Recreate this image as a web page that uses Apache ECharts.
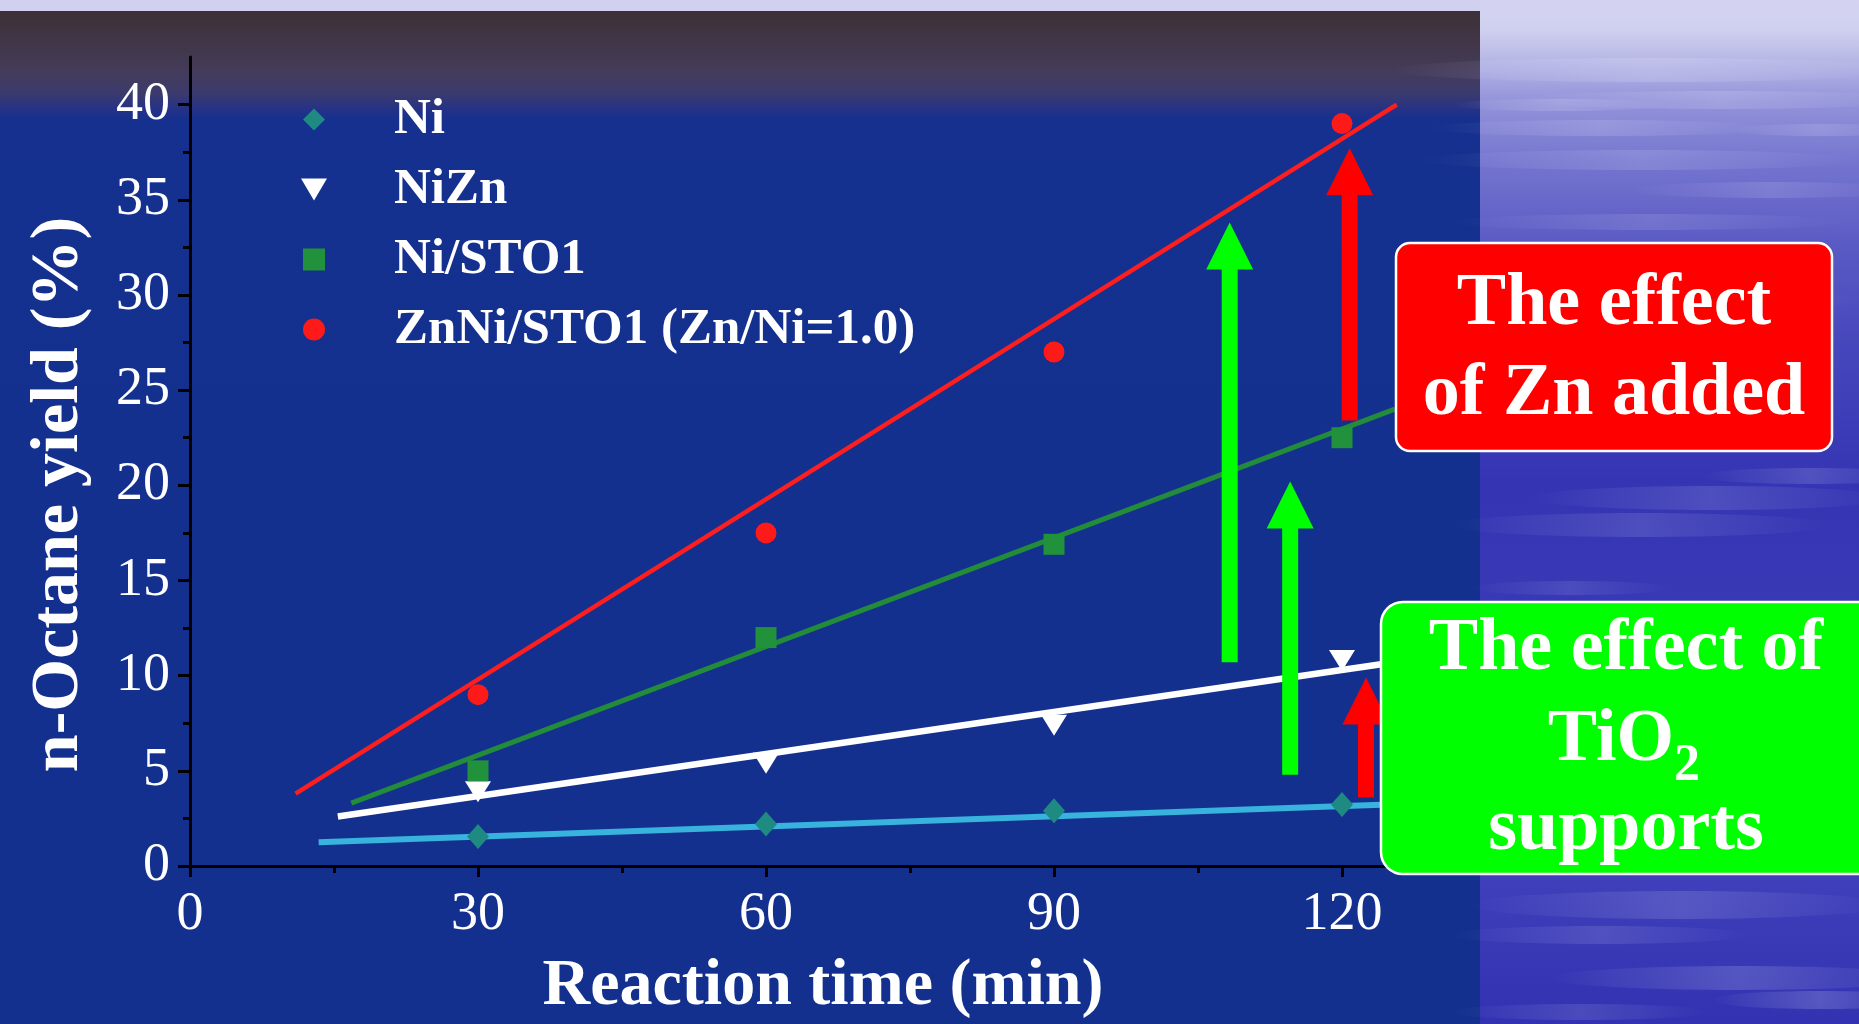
<!DOCTYPE html>
<html>
<head>
<meta charset="utf-8">
<style>
html,body{margin:0;padding:0;width:1859px;height:1024px;overflow:hidden;background:#3a3ab8;}
#chart{width:1859px;height:1024px;}
</style>
<script src="https://cdn.jsdelivr.net/npm/echarts@6/dist/echarts.min.js"></script>
</head>
<body>
<div id="chart"></div>
<script>
// ---------------- data ----------------
const times = [30, 60, 90, 120];
const niYield = [1.55, 2.2, 2.9, 3.23];
const niznYield = [3.9, 5.4, 7.4, 10.8];
const niSto1Yield = [5.0, 12.0, 16.9, 22.5];
const znNiSto1Yield = [9.0, 17.5, 27.0, 39.0];

// fitted straight lines: [xStart, yStart, xEnd, yEnd]
const niFit = [13.4, 1.25, 125.5, 3.25];
const niznFit = [15.4, 2.6, 125.5, 10.7];
const niSto1Fit = [16.8, 3.3, 125.5, 24.0];
const znNiSto1Fit = [11.0, 3.8, 125.7, 40.0];

// annotation arrows: [x, yFrom, yTip]
const greenArrows = [[108.3, 10.7, 33.8], [114.6, 4.8, 20.2]];
const redArrows = [[120.8, 23.4, 37.7], [122.5, 3.6, 9.9]];

const xMajorTicks = [0, 30, 60, 90, 120];
const xMinorTicks = [15, 45, 75, 105];
const yMajorTicks = [0, 5, 10, 15, 20, 25, 30, 35, 40];
const yMinorTicks = [2.5, 7.5, 12.5, 17.5, 22.5, 27.5, 32.5, 37.5];

const seriesNames = ['Ni', 'NiZn', 'Ni/STO1', 'ZnNi/STO1 (Zn/Ni=1.0)'];
const xTitle = 'Reaction time (min)';
const yTitle = 'n-Octane yield (%)';

// ---------------- styles ----------------
const SERIF = '"Liberation Serif", "Times New Roman", serif';
const ICON_DIAMOND = 'path://M10,0 L20,10 L10,20 L0,10 Z';
const ICON_TRI_DOWN = 'path://M0,0 L26,0 L13,22 Z';
const ICON_SQUARE = 'path://M0,0 L20,0 L20,20 L0,20 Z';

function pairs(xs, ys) { return xs.map((x, i) => [x, ys[i]]); }
function seg(f) { return [[f[0], f[1]], [f[2], f[3]]]; }

const chart = echarts.init(document.getElementById('chart'), null, { renderer: 'canvas' });

const G = echarts.graphic;
function streak(cx, cy, rx, ry, a) {
  return {
    type: 'ellipse', z: -9, silent: true,
    shape: { cx: cx, cy: cy, rx: rx, ry: ry },
    style: {
      fill: new G.LinearGradient(0, 0, 1, 0, [
        { offset: 0, color: 'rgba(235,235,255,0)' },
        { offset: 0.5, color: 'rgba(235,235,255,' + a + ')' },
        { offset: 1, color: 'rgba(235,235,255,0)' }
      ]),
      shadowBlur: 8, shadowColor: 'rgba(235,235,255,' + (a * 0.6) + ')'
    }
  };
}
const streaks = [
  [1650, 70, 260, 12, 0.18], [1720, 100, 200, 9, 0.16], [1600, 128, 170, 8, 0.15],
  [1560, 105, 110, 6, 0.16], [1640, 160, 220, 10, 0.14], [1770, 190, 140, 8, 0.13],
  [1650, 222, 200, 8, 0.12], [1570, 258, 110, 6, 0.1], [1700, 300, 170, 9, 0.08],
  [1820, 130, 90, 6, 0.15], [1710, 498, 180, 12, 0.13], [1810, 476, 110, 8, 0.14],
  [1640, 525, 190, 12, 0.12], [1570, 588, 100, 7, 0.1], [1680, 905, 210, 14, 0.14],
  [1600, 935, 150, 9, 0.12], [1740, 978, 190, 12, 0.16], [1820, 1000, 110, 9, 0.18],
  [1580, 1012, 130, 8, 0.12]
].map(s => streak(s[0], s[1], s[2], s[3], s[4]));

function boxText(x, y, text, size, align) {
  return {
    type: 'text', z: 102, silent: true, x: x, y: y,
    style: {
      text: text, fill: '#ffffff', fontFamily: SERIF, fontWeight: 'bold',
      fontSize: size, align: align || 'center', verticalAlign: 'middle'
    }
  };
}

const option = {
  animation: false,
  backgroundColor: new G.LinearGradient(0, 0, 0, 1, [
    { offset: 0, color: '#d4d4f2' },
    { offset: 0.03, color: '#cfcfef' },
    { offset: 0.06, color: '#b6b6e6' },
    { offset: 0.1, color: '#9292da' },
    { offset: 0.16, color: '#7474cf' },
    { offset: 0.24, color: '#5a5ac4' },
    { offset: 0.34, color: '#4646bc' },
    { offset: 0.47, color: '#3535b4' },
    { offset: 0.65, color: '#3b3bb7' },
    { offset: 0.85, color: '#4040bb' },
    { offset: 1, color: '#3232b2' }
  ]),
  graphic: {
    elements: [
      {
        type: 'rect', z: -10, silent: true,
        shape: { x: 0, y: 11, width: 1480, height: 1013 },
        style: {
          fill: new G.LinearGradient(0, 0, 0, 1, [
            { offset: 0, color: '#3d3036' },
            { offset: 0.035, color: '#41374a' },
            { offset: 0.062, color: '#443c5c' },
            { offset: 0.082, color: '#3b3a6e' },
            { offset: 0.097, color: '#243287' },
            { offset: 0.108, color: '#15308e' },
            { offset: 1, color: '#13308e' }
          ])
        }
      },
      {
        type: 'rect', z: -10, silent: true,
        shape: { x: 0, y: 0, width: 1480, height: 11 },
        style: { fill: '#d1d1ef' }
      },
      {
        type: 'text', z: 10, silent: true, x: 823, y: 987,
        style: {
          text: xTitle, fill: '#ffffff', fontFamily: SERIF, fontWeight: 'bold',
          fontSize: 66, align: 'center', verticalAlign: 'middle'
        }
      }
    ].concat(streaks).concat([
      {
        type: 'rect', z: 100, silent: true,
        shape: { x: 1396, y: 243, width: 436, height: 208, r: 14 },
        style: { fill: '#ff0000', stroke: '#ffffff', lineWidth: 2.5 }
      },
      boxText(1614, 305, 'The effect', 74),
      boxText(1614, 395, 'of Zn added', 74),
      {
        type: 'rect', z: 100, silent: true,
        shape: { x: 1381, y: 602, width: 500, height: 272, r: 22 },
        style: { fill: '#00ff00', stroke: '#ffffff', lineWidth: 2.5 }
      },
      boxText(1626, 650, 'The effect of', 74),
      boxText(1674, 741, 'TiO', 74, 'right'),
      boxText(1674, 767, '2', 52, 'left'),
      boxText(1626, 830, 'supports', 74)
    ])
  },
  grid: {
    left: 190, top: 57, right: 421, bottom: 158,
    containLabel: false, outerBoundsMode: 'none'
  },
  legend: {
    orient: 'vertical',
    left: 301, top: 94,
    padding: 0,
    itemWidth: 150, itemHeight: 22, itemGap: 19,
    symbolKeepAspect: true,
    selectedMode: false,
    textStyle: {
      color: '#ffffff', fontFamily: SERIF, fontWeight: 'bold',
      fontSize: 51, lineHeight: 50
    },
    data: [
      { name: seriesNames[0], icon: ICON_DIAMOND },
      { name: seriesNames[1], icon: ICON_TRI_DOWN },
      { name: seriesNames[2], icon: ICON_SQUARE },
      { name: seriesNames[3], icon: 'circle' }
    ]
  },
  xAxis: [
    {
      type: 'value', min: 0, max: 130, interval: 30,
      position: 'bottom',
      axisLine: { show: true, onZero: false, lineStyle: { color: '#000000', width: 3 } },
      axisTick: { show: true, length: 11, customValues: xMajorTicks, lineStyle: { color: '#000000', width: 3 } },
      axisLabel: {
        show: true, margin: 22, customValues: xMajorTicks,
        color: '#ffffff', fontFamily: SERIF, fontSize: 54
      },
      splitLine: { show: false }
    },
    {
      type: 'value', min: 0, max: 130, position: 'bottom', gridIndex: 0,
      axisLine: { show: false },
      axisTick: { show: true, length: 7, customValues: xMinorTicks, lineStyle: { color: '#000000', width: 3 } },
      axisLabel: { show: false },
      splitLine: { show: false }
    }
  ],
  yAxis: [
    {
      type: 'value', min: 0, max: 42.5, interval: 5,
      position: 'left',
      name: yTitle, nameLocation: 'middle', nameGap: 97,
      nameTextStyle: {
        color: '#ffffff', fontFamily: SERIF, fontWeight: 'bold',
        fontSize: 68, lineHeight: 68, padding: [0, 66, 0, 0]
      },
      axisLine: { show: true, onZero: false, lineStyle: { color: '#000000', width: 3 } },
      axisTick: { show: true, length: 12, customValues: yMajorTicks, lineStyle: { color: '#000000', width: 3 } },
      axisLabel: {
        show: true, margin: 20, customValues: yMajorTicks,
        color: '#ffffff', fontFamily: SERIF, fontSize: 54
      },
      splitLine: { show: false }
    },
    {
      type: 'value', min: 0, max: 42.5, position: 'left', gridIndex: 0,
      axisLine: { show: false },
      axisTick: { show: true, length: 7, customValues: yMinorTicks, lineStyle: { color: '#000000', width: 3 } },
      axisLabel: { show: false },
      splitLine: { show: false }
    }
  ],
  series: [
    { name: 'Ni fit', type: 'line', z: 2, symbol: 'none', silent: true, data: seg(niFit),
      lineStyle: { color: '#37b3de', width: 6 } },
    { name: 'NiZn fit', type: 'line', z: 2, symbol: 'none', silent: true, data: seg(niznFit),
      lineStyle: { color: '#ffffff', width: 6.5 } },
    { name: 'Ni/STO1 fit', type: 'line', z: 2, symbol: 'none', silent: true, data: seg(niSto1Fit),
      lineStyle: { color: '#238c3a', width: 5 } },
    { name: 'ZnNi/STO1 fit', type: 'line', z: 2, symbol: 'none', silent: true, data: seg(znNiSto1Fit),
      lineStyle: { color: '#ff1e1e', width: 4.5 } },

    { name: seriesNames[0], type: 'scatter', z: 3, symbol: ICON_DIAMOND, symbolSize: [22, 25],
      itemStyle: { color: '#1f8a82', opacity: 1 }, data: pairs(times, niYield) },
    { name: seriesNames[1], type: 'scatter', z: 3, symbol: ICON_TRI_DOWN, symbolSize: [26, 21],
      itemStyle: { color: '#ffffff', opacity: 1 }, data: pairs(times, niznYield) },
    { name: seriesNames[2], type: 'scatter', z: 3, symbol: ICON_SQUARE, symbolSize: 21,
      itemStyle: { color: '#21923b', opacity: 1 }, data: pairs(times, niSto1Yield) },
    { name: seriesNames[3], type: 'scatter', z: 3, symbol: 'circle', symbolSize: 21,
      itemStyle: { color: '#ff1a1a', opacity: 1 }, data: pairs(times, znNiSto1Yield) },

    {
      name: 'arrows', type: 'custom', z: 5, silent: true,
      encode: { x: 0, y: [1, 2] },
      data: greenArrows.map(a => ({ value: a, itemStyle: { color: '#00ff00' } }))
        .concat(redArrows.map(a => ({ value: a, itemStyle: { color: '#ff0000' } }))),
      renderItem: function (params, api) {
        const p0 = api.coord([api.value(0), api.value(1)]);
        const p1 = api.coord([api.value(0), api.value(2)]);
        const hw = 8, headW = 23.5, headL = 47;
        const x = p0[0], yb = p0[1], yt = p1[1], yh = yt + headL;
        return {
          type: 'polygon',
          shape: { points: [[x - hw, yb], [x - hw, yh], [x - headW, yh], [x, yt], [x + headW, yh], [x + hw, yh], [x + hw, yb]] },
          style: { fill: api.visual('color') }
        };
      }
    }
  ]
};

chart.setOption(option);
</script>
</body>
</html>
